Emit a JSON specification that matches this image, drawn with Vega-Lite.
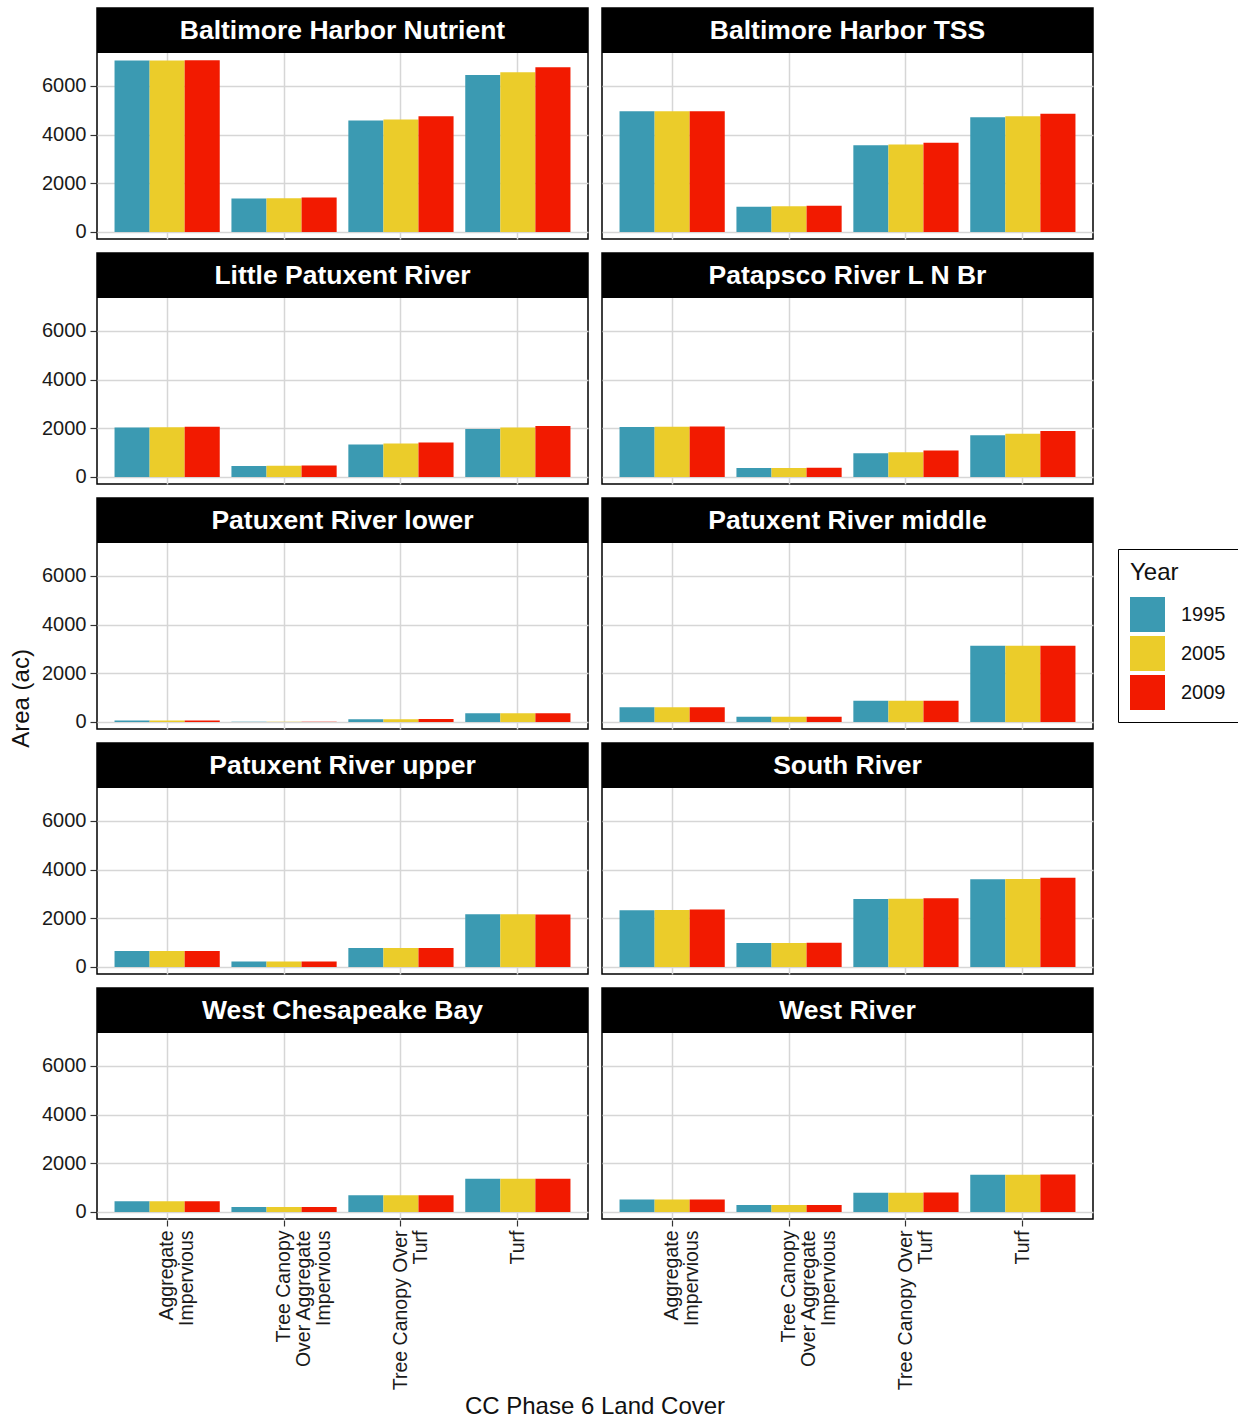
{
  "$schema": "https://vega.github.io/schema/vega-lite/v6.json",
  "background": "white",
  "padding": {"left": 9, "top": 7, "right": 0, "bottom": 0},
  "title": {"text": "CC Phase 6 Land Cover", "orient": "bottom", "anchor": "middle", "fontSize": 24, "fontWeight": "normal", "font": "Liberation Sans", "color": "#111", "offset": 5, "dx": -29},
  "vconcat": [
    {
      "title": {"text": "Area (ac)", "orient": "left", "anchor": "middle", "fontSize": 24, "fontWeight": "normal", "font": "Liberation Sans", "color": "#111", "offset": 8},
      "data": {"values": [
        {"Segment": "Baltimore Harbor Nutrient", "Cover": "Aggregate Impervious", "Year": "1995", "Area": 7050},
        {"Segment": "Baltimore Harbor Nutrient", "Cover": "Aggregate Impervious", "Year": "2005", "Area": 7050},
        {"Segment": "Baltimore Harbor Nutrient", "Cover": "Aggregate Impervious", "Year": "2009", "Area": 7060},
        {"Segment": "Baltimore Harbor Nutrient", "Cover": "Tree Canopy Over Aggregate Impervious", "Year": "1995", "Area": 1380},
        {"Segment": "Baltimore Harbor Nutrient", "Cover": "Tree Canopy Over Aggregate Impervious", "Year": "2005", "Area": 1390},
        {"Segment": "Baltimore Harbor Nutrient", "Cover": "Tree Canopy Over Aggregate Impervious", "Year": "2009", "Area": 1420},
        {"Segment": "Baltimore Harbor Nutrient", "Cover": "Tree Canopy Over Turf", "Year": "1995", "Area": 4580},
        {"Segment": "Baltimore Harbor Nutrient", "Cover": "Tree Canopy Over Turf", "Year": "2005", "Area": 4620},
        {"Segment": "Baltimore Harbor Nutrient", "Cover": "Tree Canopy Over Turf", "Year": "2009", "Area": 4760},
        {"Segment": "Baltimore Harbor Nutrient", "Cover": "Turf", "Year": "1995", "Area": 6450},
        {"Segment": "Baltimore Harbor Nutrient", "Cover": "Turf", "Year": "2005", "Area": 6560},
        {"Segment": "Baltimore Harbor Nutrient", "Cover": "Turf", "Year": "2009", "Area": 6770},
        {"Segment": "Baltimore Harbor TSS", "Cover": "Aggregate Impervious", "Year": "1995", "Area": 4960},
        {"Segment": "Baltimore Harbor TSS", "Cover": "Aggregate Impervious", "Year": "2005", "Area": 4960},
        {"Segment": "Baltimore Harbor TSS", "Cover": "Aggregate Impervious", "Year": "2009", "Area": 4960},
        {"Segment": "Baltimore Harbor TSS", "Cover": "Tree Canopy Over Aggregate Impervious", "Year": "1995", "Area": 1040},
        {"Segment": "Baltimore Harbor TSS", "Cover": "Tree Canopy Over Aggregate Impervious", "Year": "2005", "Area": 1060},
        {"Segment": "Baltimore Harbor TSS", "Cover": "Tree Canopy Over Aggregate Impervious", "Year": "2009", "Area": 1080},
        {"Segment": "Baltimore Harbor TSS", "Cover": "Tree Canopy Over Turf", "Year": "1995", "Area": 3560},
        {"Segment": "Baltimore Harbor TSS", "Cover": "Tree Canopy Over Turf", "Year": "2005", "Area": 3600},
        {"Segment": "Baltimore Harbor TSS", "Cover": "Tree Canopy Over Turf", "Year": "2009", "Area": 3670},
        {"Segment": "Baltimore Harbor TSS", "Cover": "Turf", "Year": "1995", "Area": 4720},
        {"Segment": "Baltimore Harbor TSS", "Cover": "Turf", "Year": "2005", "Area": 4760},
        {"Segment": "Baltimore Harbor TSS", "Cover": "Turf", "Year": "2009", "Area": 4860},
        {"Segment": "Little Patuxent River", "Cover": "Aggregate Impervious", "Year": "1995", "Area": 2030},
        {"Segment": "Little Patuxent River", "Cover": "Aggregate Impervious", "Year": "2005", "Area": 2040},
        {"Segment": "Little Patuxent River", "Cover": "Aggregate Impervious", "Year": "2009", "Area": 2060},
        {"Segment": "Little Patuxent River", "Cover": "Tree Canopy Over Aggregate Impervious", "Year": "1995", "Area": 450},
        {"Segment": "Little Patuxent River", "Cover": "Tree Canopy Over Aggregate Impervious", "Year": "2005", "Area": 460},
        {"Segment": "Little Patuxent River", "Cover": "Tree Canopy Over Aggregate Impervious", "Year": "2009", "Area": 470},
        {"Segment": "Little Patuxent River", "Cover": "Tree Canopy Over Turf", "Year": "1995", "Area": 1340},
        {"Segment": "Little Patuxent River", "Cover": "Tree Canopy Over Turf", "Year": "2005", "Area": 1380},
        {"Segment": "Little Patuxent River", "Cover": "Tree Canopy Over Turf", "Year": "2009", "Area": 1420},
        {"Segment": "Little Patuxent River", "Cover": "Turf", "Year": "1995", "Area": 1970},
        {"Segment": "Little Patuxent River", "Cover": "Turf", "Year": "2005", "Area": 2030},
        {"Segment": "Little Patuxent River", "Cover": "Turf", "Year": "2009", "Area": 2100},
        {"Segment": "Patapsco River L N Br", "Cover": "Aggregate Impervious", "Year": "1995", "Area": 2050},
        {"Segment": "Patapsco River L N Br", "Cover": "Aggregate Impervious", "Year": "2005", "Area": 2060},
        {"Segment": "Patapsco River L N Br", "Cover": "Aggregate Impervious", "Year": "2009", "Area": 2080},
        {"Segment": "Patapsco River L N Br", "Cover": "Tree Canopy Over Aggregate Impervious", "Year": "1995", "Area": 370},
        {"Segment": "Patapsco River L N Br", "Cover": "Tree Canopy Over Aggregate Impervious", "Year": "2005", "Area": 370},
        {"Segment": "Patapsco River L N Br", "Cover": "Tree Canopy Over Aggregate Impervious", "Year": "2009", "Area": 375},
        {"Segment": "Patapsco River L N Br", "Cover": "Tree Canopy Over Turf", "Year": "1995", "Area": 980},
        {"Segment": "Patapsco River L N Br", "Cover": "Tree Canopy Over Turf", "Year": "2005", "Area": 1020},
        {"Segment": "Patapsco River L N Br", "Cover": "Tree Canopy Over Turf", "Year": "2009", "Area": 1090},
        {"Segment": "Patapsco River L N Br", "Cover": "Turf", "Year": "1995", "Area": 1720},
        {"Segment": "Patapsco River L N Br", "Cover": "Turf", "Year": "2005", "Area": 1780},
        {"Segment": "Patapsco River L N Br", "Cover": "Turf", "Year": "2009", "Area": 1890},
        {"Segment": "Patuxent River lower", "Cover": "Aggregate Impervious", "Year": "1995", "Area": 60},
        {"Segment": "Patuxent River lower", "Cover": "Aggregate Impervious", "Year": "2005", "Area": 60},
        {"Segment": "Patuxent River lower", "Cover": "Aggregate Impervious", "Year": "2009", "Area": 60},
        {"Segment": "Patuxent River lower", "Cover": "Tree Canopy Over Aggregate Impervious", "Year": "1995", "Area": 15},
        {"Segment": "Patuxent River lower", "Cover": "Tree Canopy Over Aggregate Impervious", "Year": "2005", "Area": 15},
        {"Segment": "Patuxent River lower", "Cover": "Tree Canopy Over Aggregate Impervious", "Year": "2009", "Area": 15},
        {"Segment": "Patuxent River lower", "Cover": "Tree Canopy Over Turf", "Year": "1995", "Area": 110},
        {"Segment": "Patuxent River lower", "Cover": "Tree Canopy Over Turf", "Year": "2005", "Area": 110},
        {"Segment": "Patuxent River lower", "Cover": "Tree Canopy Over Turf", "Year": "2009", "Area": 120},
        {"Segment": "Patuxent River lower", "Cover": "Turf", "Year": "1995", "Area": 360},
        {"Segment": "Patuxent River lower", "Cover": "Turf", "Year": "2005", "Area": 360},
        {"Segment": "Patuxent River lower", "Cover": "Turf", "Year": "2009", "Area": 360},
        {"Segment": "Patuxent River middle", "Cover": "Aggregate Impervious", "Year": "1995", "Area": 610},
        {"Segment": "Patuxent River middle", "Cover": "Aggregate Impervious", "Year": "2005", "Area": 610},
        {"Segment": "Patuxent River middle", "Cover": "Aggregate Impervious", "Year": "2009", "Area": 610},
        {"Segment": "Patuxent River middle", "Cover": "Tree Canopy Over Aggregate Impervious", "Year": "1995", "Area": 220},
        {"Segment": "Patuxent River middle", "Cover": "Tree Canopy Over Aggregate Impervious", "Year": "2005", "Area": 220},
        {"Segment": "Patuxent River middle", "Cover": "Tree Canopy Over Aggregate Impervious", "Year": "2009", "Area": 220},
        {"Segment": "Patuxent River middle", "Cover": "Tree Canopy Over Turf", "Year": "1995", "Area": 870},
        {"Segment": "Patuxent River middle", "Cover": "Tree Canopy Over Turf", "Year": "2005", "Area": 870},
        {"Segment": "Patuxent River middle", "Cover": "Tree Canopy Over Turf", "Year": "2009", "Area": 870},
        {"Segment": "Patuxent River middle", "Cover": "Turf", "Year": "1995", "Area": 3130},
        {"Segment": "Patuxent River middle", "Cover": "Turf", "Year": "2005", "Area": 3130},
        {"Segment": "Patuxent River middle", "Cover": "Turf", "Year": "2009", "Area": 3130},
        {"Segment": "Patuxent River upper", "Cover": "Aggregate Impervious", "Year": "1995", "Area": 660},
        {"Segment": "Patuxent River upper", "Cover": "Aggregate Impervious", "Year": "2005", "Area": 660},
        {"Segment": "Patuxent River upper", "Cover": "Aggregate Impervious", "Year": "2009", "Area": 660},
        {"Segment": "Patuxent River upper", "Cover": "Tree Canopy Over Aggregate Impervious", "Year": "1995", "Area": 230},
        {"Segment": "Patuxent River upper", "Cover": "Tree Canopy Over Aggregate Impervious", "Year": "2005", "Area": 230},
        {"Segment": "Patuxent River upper", "Cover": "Tree Canopy Over Aggregate Impervious", "Year": "2009", "Area": 230},
        {"Segment": "Patuxent River upper", "Cover": "Tree Canopy Over Turf", "Year": "1995", "Area": 780},
        {"Segment": "Patuxent River upper", "Cover": "Tree Canopy Over Turf", "Year": "2005", "Area": 780},
        {"Segment": "Patuxent River upper", "Cover": "Tree Canopy Over Turf", "Year": "2009", "Area": 780},
        {"Segment": "Patuxent River upper", "Cover": "Turf", "Year": "1995", "Area": 2170},
        {"Segment": "Patuxent River upper", "Cover": "Turf", "Year": "2005", "Area": 2170},
        {"Segment": "Patuxent River upper", "Cover": "Turf", "Year": "2009", "Area": 2160},
        {"Segment": "South River", "Cover": "Aggregate Impervious", "Year": "1995", "Area": 2330},
        {"Segment": "South River", "Cover": "Aggregate Impervious", "Year": "2005", "Area": 2340},
        {"Segment": "South River", "Cover": "Aggregate Impervious", "Year": "2009", "Area": 2360},
        {"Segment": "South River", "Cover": "Tree Canopy Over Aggregate Impervious", "Year": "1995", "Area": 990},
        {"Segment": "South River", "Cover": "Tree Canopy Over Aggregate Impervious", "Year": "2005", "Area": 990},
        {"Segment": "South River", "Cover": "Tree Canopy Over Aggregate Impervious", "Year": "2009", "Area": 995},
        {"Segment": "South River", "Cover": "Tree Canopy Over Turf", "Year": "1995", "Area": 2790},
        {"Segment": "South River", "Cover": "Tree Canopy Over Turf", "Year": "2005", "Area": 2800},
        {"Segment": "South River", "Cover": "Tree Canopy Over Turf", "Year": "2009", "Area": 2830},
        {"Segment": "South River", "Cover": "Turf", "Year": "1995", "Area": 3610},
        {"Segment": "South River", "Cover": "Turf", "Year": "2005", "Area": 3620},
        {"Segment": "South River", "Cover": "Turf", "Year": "2009", "Area": 3670},
        {"Segment": "West Chesapeake Bay", "Cover": "Aggregate Impervious", "Year": "1995", "Area": 440},
        {"Segment": "West Chesapeake Bay", "Cover": "Aggregate Impervious", "Year": "2005", "Area": 440},
        {"Segment": "West Chesapeake Bay", "Cover": "Aggregate Impervious", "Year": "2009", "Area": 440},
        {"Segment": "West Chesapeake Bay", "Cover": "Tree Canopy Over Aggregate Impervious", "Year": "1995", "Area": 205},
        {"Segment": "West Chesapeake Bay", "Cover": "Tree Canopy Over Aggregate Impervious", "Year": "2005", "Area": 205},
        {"Segment": "West Chesapeake Bay", "Cover": "Tree Canopy Over Aggregate Impervious", "Year": "2009", "Area": 205},
        {"Segment": "West Chesapeake Bay", "Cover": "Tree Canopy Over Turf", "Year": "1995", "Area": 685},
        {"Segment": "West Chesapeake Bay", "Cover": "Tree Canopy Over Turf", "Year": "2005", "Area": 685},
        {"Segment": "West Chesapeake Bay", "Cover": "Tree Canopy Over Turf", "Year": "2009", "Area": 690},
        {"Segment": "West Chesapeake Bay", "Cover": "Turf", "Year": "1995", "Area": 1370},
        {"Segment": "West Chesapeake Bay", "Cover": "Turf", "Year": "2005", "Area": 1370},
        {"Segment": "West Chesapeake Bay", "Cover": "Turf", "Year": "2009", "Area": 1370},
        {"Segment": "West River", "Cover": "Aggregate Impervious", "Year": "1995", "Area": 510},
        {"Segment": "West River", "Cover": "Aggregate Impervious", "Year": "2005", "Area": 510},
        {"Segment": "West River", "Cover": "Aggregate Impervious", "Year": "2009", "Area": 510},
        {"Segment": "West River", "Cover": "Tree Canopy Over Aggregate Impervious", "Year": "1995", "Area": 290},
        {"Segment": "West River", "Cover": "Tree Canopy Over Aggregate Impervious", "Year": "2005", "Area": 290},
        {"Segment": "West River", "Cover": "Tree Canopy Over Aggregate Impervious", "Year": "2009", "Area": 290},
        {"Segment": "West River", "Cover": "Tree Canopy Over Turf", "Year": "1995", "Area": 795},
        {"Segment": "West River", "Cover": "Tree Canopy Over Turf", "Year": "2005", "Area": 795},
        {"Segment": "West River", "Cover": "Tree Canopy Over Turf", "Year": "2009", "Area": 800},
        {"Segment": "West River", "Cover": "Turf", "Year": "1995", "Area": 1535},
        {"Segment": "West River", "Cover": "Turf", "Year": "2005", "Area": 1535},
        {"Segment": "West River", "Cover": "Turf", "Year": "2009", "Area": 1540}
      ]},
      "facet": {"field": "Segment", "type": "nominal", "header": {"title": null, "labelExpr": "''", "labelFontSize": 0, "labelPadding": 0, "labelLimit": 1}},
      "columns": 2,
      "spacing": {"row": 12, "column": 12},
      "spec": {
        "width": 491,
        "height": 231,
        "layer": [
          {
            "mark": {"type": "bar"},
            "encoding": {
              "x": {"field": "Cover", "type": "nominal", "title": null,
                    "scale": {"paddingInner": 0.1, "paddingOuter": 0.15},
                    "axis": {"labelAngle": 270, "grid": true, "labelLineHeight": 20, "labelFontSize": 19.5,
                             "labelExpr": "datum.value == 'Aggregate Impervious' ? ['Aggregate', 'Impervious'] : datum.value == 'Tree Canopy Over Aggregate Impervious' ? ['Tree Canopy', 'Over Aggregate', 'Impervious'] : datum.value == 'Tree Canopy Over Turf' ? ['Tree Canopy Over', 'Turf'] : datum.value"}},
              "xOffset": {"field": "Year", "type": "nominal"},
              "y": {"field": "Area", "type": "quantitative",
                    "scale": {"domain": [-288, 9205], "nice": false, "zero": false},
                    "axis": {"values": [0, 2000, 4000, 6000], "format": "d", "title": null, "grid": true}},
              "color": {"field": "Year", "type": "nominal",
                        "scale": {"domain": ["1995", "2005", "2009"], "range": ["#3B9AB2", "#EBCC2A", "#F21A00"]},
                        "legend": {"title": "Year", "orient": "none", "legendX": 1021, "legendY": 541}}
            }
          },
          {
            "transform": [{"aggregate": [{"op": "count", "as": "n"}], "groupby": ["Segment"]}],
            "mark": {"type": "rect", "color": "black"},
            "encoding": {
              "y": {"datum": 7356, "type": "quantitative", "scale": {"domain": [-288, 9205], "nice": false, "zero": false}},
              "y2": {"datum": 9205}
            }
          },
          {
            "transform": [{"aggregate": [{"op": "count", "as": "n"}], "groupby": ["Segment"]}],
            "mark": {"type": "text", "color": "white", "fontWeight": "bold", "fontSize": 26.5, "font": "Liberation Sans", "baseline": "middle", "align": "center"},
            "encoding": {
              "y": {"datum": 8280, "type": "quantitative", "scale": {"domain": [-288, 9205], "nice": false, "zero": false}},
              "text": {"field": "Segment", "type": "nominal"}
            }
          }
        ]
      }
    }
  ],
  "config": {
    "font": "Liberation Sans",
    "view": {"stroke": "black", "strokeWidth": 1.5},
    "axis": {"labelFont": "Liberation Sans", "labelFontSize": 20, "labelColor": "#1a1a1a", "tickColor": "#333333", "tickSize": 6, "tickWidth": 1.2, "gridColor": "#d6d6d6", "gridWidth": 1.5, "domain": false, "labelPadding": 4},
    "legend": {"titleFont": "Liberation Sans", "titleFontSize": 24, "titleFontWeight": "normal", "titleColor": "#111", "labelFont": "Liberation Sans", "labelFontSize": 20, "labelColor": "#111", "symbolType": "square", "symbolSize": 1225, "symbolStrokeWidth": 0, "symbolOpacity": 1, "strokeColor": "black", "padding": 12, "rowPadding": 4, "labelOffset": 16, "titlePadding": 12}
  }
}
